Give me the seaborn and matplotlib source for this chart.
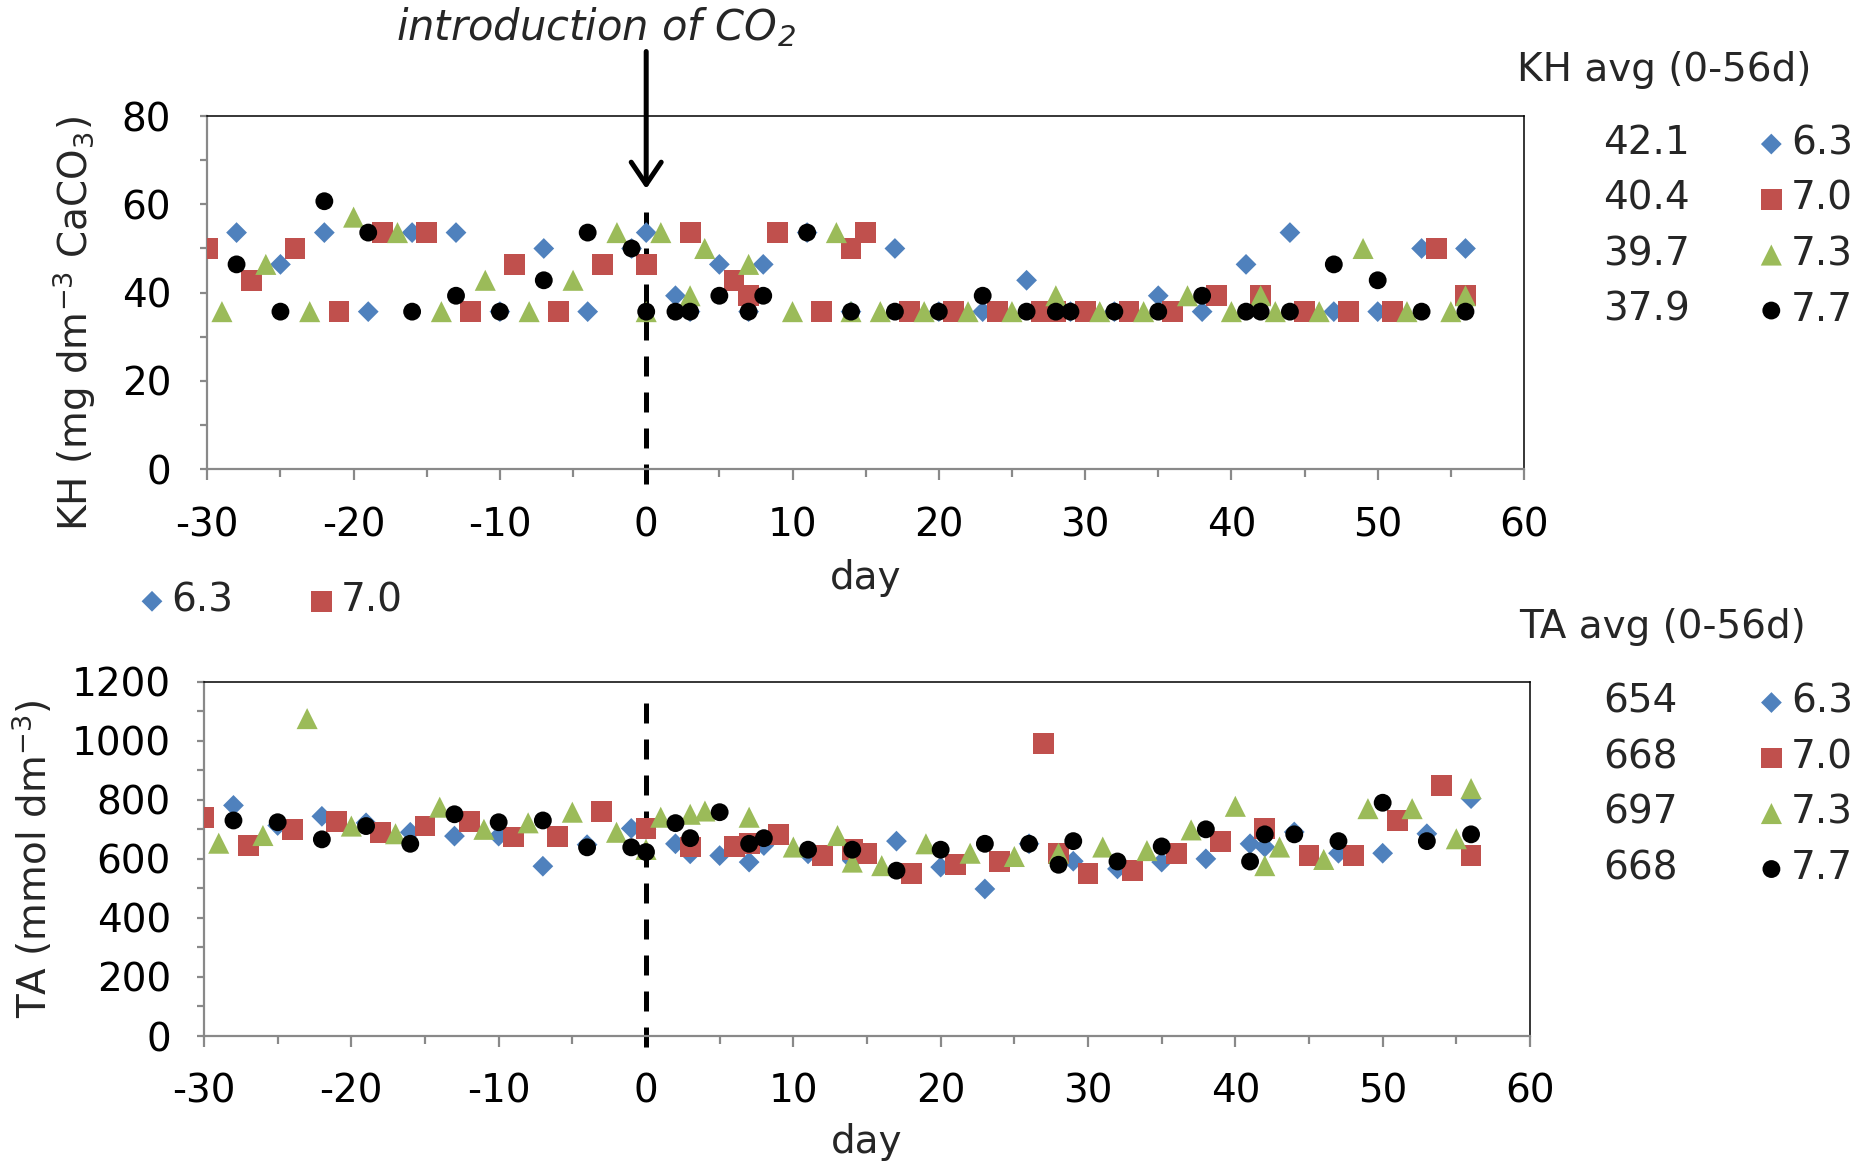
import matplotlib
matplotlib.use("Agg")
import matplotlib.pyplot as plt
import seaborn as sns
from matplotlib.ticker import MultipleLocator
from matplotlib.lines import Line2D

# ---------------- data ----------------
groups = ["6.3", "7.0", "7.3", "7.7"]
colors = ["#4F81BD", "#C0504D", "#9BBB59", "#000000"]
markers = ["D", "s", "^", "o"]
msizes = [112, 225, 230, 165]

kh_avg = ["42.1", "40.4", "39.7", "37.9"]
ta_avg = ["654", "668", "697", "668"]

# KH (mg dm-3 CaCO3)
kh_days_63 = [-28, -25, -22, -19, -16, -13, -10, -7, -4, -1, 0, 2, 3, 5, 7, 8, 11, 14, 17, 20, 23, 26, 29, 32, 35, 38, 41, 44, 47, 50, 53, 56]
kh_63 = [53.6, 46.4, 53.6, 35.7, 53.6, 53.6, 35.7, 50.0, 35.7, 50.0, 53.6, 39.3, 35.7, 46.4, 35.7, 46.4, 53.6, 35.7, 50.0, 35.7, 35.7, 42.8, 35.7, 35.7, 39.3, 35.7, 46.4, 53.6, 35.7, 35.7, 50.0, 50.0]

kh_days_70 = [-30, -27, -24, -21, -18, -15, -12, -9, -6, -3, 0, 3, 6, 7, 9, 12, 14, 15, 18, 21, 24, 27, 28, 30, 33, 36, 39, 42, 45, 48, 51, 54, 56]
kh_70 = [50.0, 42.8, 50.0, 35.7, 53.6, 53.6, 35.7, 46.4, 35.7, 46.4, 46.4, 53.6, 42.8, 39.3, 53.6, 35.7, 50.0, 53.6, 35.7, 35.7, 35.7, 35.7, 35.7, 35.7, 35.7, 35.7, 39.3, 39.3, 35.7, 35.7, 35.7, 50.0, 39.3]

kh_days_73 = [-29, -26, -23, -20, -17, -14, -11, -8, -5, -2, 0, 1, 3, 4, 7, 10, 13, 14, 16, 19, 22, 25, 28, 31, 34, 37, 40, 42, 43, 46, 49, 52, 55, 56]
kh_73 = [35.7, 46.4, 35.7, 57.1, 53.6, 35.7, 42.8, 35.7, 42.8, 53.6, 35.7, 53.6, 39.3, 50.0, 46.4, 35.7, 53.6, 35.7, 35.7, 35.7, 35.7, 35.7, 39.3, 35.7, 35.7, 39.3, 35.7, 39.3, 35.7, 35.7, 50.0, 35.7, 35.7, 39.3]

kh_days_77 = [-28, -25, -22, -19, -16, -13, -10, -7, -4, -1, 0, 2, 3, 5, 7, 8, 11, 14, 17, 20, 23, 26, 28, 29, 32, 35, 38, 41, 42, 44, 47, 50, 53, 56]
kh_77 = [46.4, 35.7, 60.7, 53.6, 35.7, 39.3, 35.7, 42.8, 53.6, 50.0, 35.7, 35.7, 35.7, 39.3, 35.7, 39.3, 53.6, 35.7, 35.7, 35.7, 39.3, 35.7, 35.7, 35.7, 35.7, 35.7, 39.3, 35.7, 35.7, 35.7, 46.4, 42.8, 35.7, 35.7]

# TA (mmol dm-3)
ta_days_63 = [-28, -25, -22, -19, -16, -13, -10, -7, -4, -1, 0, 2, 3, 5, 7, 8, 11, 14, 17, 20, 23, 26, 29, 32, 35, 38, 41, 42, 44, 47, 50, 53, 56]
ta_63 = [781, 713, 744, 722, 690, 677, 677, 575, 648, 703, 700, 651, 617, 611, 589, 645, 617, 594, 660, 572, 498, 651, 592, 566, 589, 600, 651, 640, 691, 619, 619, 685, 804]

ta_days_70 = [-30, -27, -24, -21, -18, -15, -12, -9, -6, -3, 0, 3, 6, 7, 9, 12, 14, 15, 18, 21, 24, 27, 28, 30, 33, 36, 39, 42, 45, 48, 51, 54, 56]
ta_70 = [741, 645, 700, 727, 690, 711, 727, 674, 676, 761, 703, 640, 642, 651, 683, 611, 631, 619, 551, 581, 591, 991, 619, 549, 560, 619, 660, 702, 611, 611, 730, 849, 611]

ta_days_73 = [-29, -26, -23, -20, -17, -14, -11, -8, -5, -2, 0, 1, 3, 4, 7, 10, 13, 14, 16, 19, 22, 25, 28, 31, 34, 37, 40, 42, 43, 46, 49, 52, 55, 56]
ta_73 = [653, 679, 1075, 711, 685, 775, 700, 722, 758, 690, 632, 741, 751, 762, 741, 640, 679, 589, 577, 651, 619, 608, 619, 640, 628, 698, 778, 577, 640, 598, 770, 770, 668, 838]

ta_days_77 = [-28, -25, -22, -19, -16, -13, -10, -7, -4, -1, 0, 2, 3, 5, 7, 8, 11, 14, 17, 20, 23, 26, 28, 29, 32, 35, 38, 41, 42, 44, 47, 50, 53, 56]
ta_77 = [730, 724, 666, 711, 651, 751, 724, 730, 639, 639, 623, 721, 670, 758, 651, 670, 631, 631, 560, 631, 651, 651, 580, 660, 591, 642, 700, 591, 683, 683, 660, 790, 660, 683]

kh_series = [(kh_days_63, kh_63), (kh_days_70, kh_70), (kh_days_73, kh_73), (kh_days_77, kh_77)]
ta_series = [(ta_days_63, ta_63), (ta_days_70, ta_70), (ta_days_73, ta_73), (ta_days_77, ta_77)]

# ---------------- style ----------------
sns.set_theme(style="white")
plt.rcParams["font.family"] = ["DejaVu Sans"]
plt.rcParams["mathtext.fontset"] = "dejavusans"
plt.rcParams["mathtext.default"] = "regular"
plt.rcParams["axes.unicode_minus"] = False

FS = 28
W, H = 1860, 1166
em = FS * 100 / 72
fig = plt.figure(figsize=(W / 100, H / 100), dpi=100)


def rect(l, t, r, b):
    return [l / W, 1 - b / H, (r - l) / W, (b - t) / H]


ax1 = fig.add_axes(rect(207.3, 116, 1524, 469.3))
ax2 = fig.add_axes(rect(204, 681.7, 1530, 1036))


def draw(ax, series):
    handles = []
    for (d, v), c, m, s in zip(series, colors, markers, msizes):
        sns.scatterplot(x=d, y=v, ax=ax, color=c, marker=m, s=s,
                        linewidth=0, edgecolor="none", legend=False, zorder=3)
        handles.append(ax.collections[-1])
    return handles


def style(ax, ymax, ymaj, ymin_, xpad, ypad):
    ax.set_xlim(-30, 60)
    ax.set_ylim(0, ymax)
    ax.xaxis.set_major_locator(MultipleLocator(10))
    ax.xaxis.set_minor_locator(MultipleLocator(5))
    ax.yaxis.set_major_locator(MultipleLocator(ymaj))
    ax.yaxis.set_minor_locator(MultipleLocator(ymin_))
    for s in ["left", "bottom"]:
        ax.spines[s].set_color("#898989")
        ax.spines[s].set_linewidth(1.6)
    for s in ["top", "right"]:
        ax.spines[s].set_color("#000000")
        ax.spines[s].set_linewidth(1.1)
    ax.tick_params(axis="both", which="both", direction="out", color="#898989",
                   width=1.6, labelsize=FS, bottom=True, left=True,
                   top=False, right=False, labelcolor="black")
    ax.tick_params(axis="x", which="major", length=8, pad=xpad)
    ax.tick_params(axis="x", which="minor", length=5.5)
    ax.tick_params(axis="y", which="both", length=5, pad=ypad)
    ax.grid(False)


h1 = draw(ax1, kh_series)
h2 = draw(ax2, ta_series)
style(ax1, 80, 20, 10, 19, 21)
style(ax2, 1200, 200, 100, 18.3, 18.7)

ax1.set_xlabel("day", fontsize=FS, va="center")
ax1.xaxis.set_label_coords(0.5, (469.3 - 577.7) / 353.3)
ax2.set_xlabel("day", fontsize=FS, va="center")
ax2.xaxis.set_label_coords(0.5, (1036 - 1142) / 354.3)

ax1.set_ylabel(r"KH (mg dm$^{-3}$ CaCO$_3$)", fontsize=FS, va="center")
ax1.yaxis.set_label_coords((74 - 207.3) / 1316.7, 1 - (324 - 116) / 353.3)
ax2.set_ylabel(r"TA (mmol dm$^{-3}$)", fontsize=FS, va="center")
ax2.yaxis.set_label_coords((33 - 204) / 1326, 0.5)

# CO2 introduction marker
dash = dict(color="black", lw=3.6, dashes=(4, 3.2), clip_on=False, zorder=2)
ax1.axvline(0, ymin=(469.3 - 484) / 353.3, ymax=(469.3 - 206.5) / 353.3, **dash)
ax2.axvline(0, ymin=(1036 - 1047) / 354.3, ymax=(1036 - 695) / 354.3, **dash)
ax1.annotate("", xy=(0, 63.5), xytext=(0, 94.6), xycoords="data",
             annotation_clip=False,
             arrowprops=dict(arrowstyle="->,head_length=0.4,head_width=0.27",
                             lw=3.6, color="black", shrinkA=0, shrinkB=0,
                             mutation_scale=40))
fig.text(396 / W, 1 - 40 / H, r"introduction of CO$_2$", fontsize=30,
         style="italic", ha="left", va="baseline")

# legends
blank = [Line2D([], [], linestyle="none", marker="") for _ in range(4)]
hl, htp = 0.8, 0.1


def side_legend(handles, avgs, title, title_x, title_y, rows_center, adv):
    start = 1603 - (hl + htp) * em
    text_end = 1603 + adv * em
    col2_start = 1771 - hl * em / 2
    colsp = (col2_start - text_end) / em
    fig.legend(blank + handles, avgs + groups, ncol=2, loc="center left",
               bbox_to_anchor=(start / W, 1 - (rows_center + 0.09 * em) / H),
               frameon=False, fontsize=FS, handlelength=hl,
               handletextpad=htp, columnspacing=colsp, labelspacing=0.45,
               borderpad=0, borderaxespad=0, markerscale=1.0)
    fig.text(title_x / W, 1 - title_y / H, title, fontsize=FS, ha="left", va="center")


side_legend(h1, kh_avg, "KH avg (0-56d)", 1517, 70, 223, 2.226)
side_legend(h2, ta_avg, "TA avg (0-56d)", 1519, 626.5, 781.5, 1.908)

st = 152 - hl * em / 2
fig.legend(h1[:2], groups[:2], ncol=2, loc="center left",
           bbox_to_anchor=(st / W, 1 - (597 + 0.09 * em) / H), frameon=False,
           fontsize=FS, handlelength=hl, handletextpad=htp,
           columnspacing=(321 - hl * em / 2 - (st + (hl + htp) * em + 1.59 * em)) / em,
           borderpad=0, borderaxespad=0)

fig.savefig("out.png", dpi=100)
